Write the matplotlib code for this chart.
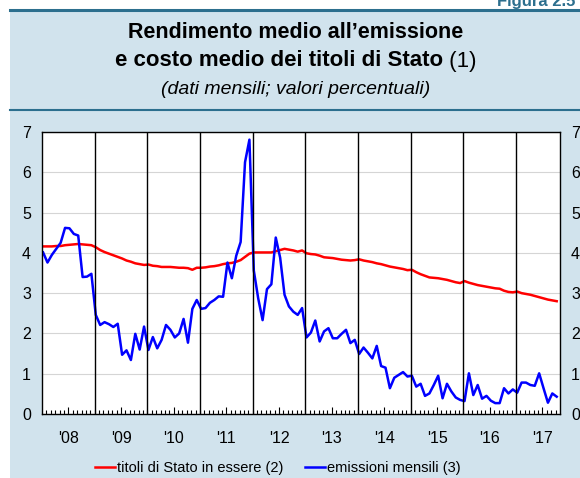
import numpy as np
import matplotlib.pyplot as plt
from matplotlib.patches import Rectangle
from matplotlib.lines import Line2D

plt.rcParams['font.family'] = ['Liberation Sans', 'DejaVu Sans']

# monthly values, Jan 2008 - Oct 2017
titoli_essere = [
    4.16, 4.16, 4.16, 4.17, 4.17, 4.19, 4.20, 4.21, 4.22, 4.21, 4.20, 4.19,
    4.14, 4.07, 4.02, 3.98, 3.94, 3.90, 3.86, 3.81, 3.78, 3.74, 3.72, 3.70,
    3.71, 3.68, 3.67, 3.65, 3.65, 3.65, 3.64, 3.63, 3.63, 3.62, 3.58, 3.63,
    3.63, 3.64, 3.66, 3.67, 3.69, 3.72, 3.74, 3.75, 3.78, 3.82, 3.90, 3.98,
    4.01, 4.01, 4.01, 4.01, 4.01, 4.04, 4.07, 4.10, 4.08, 4.06, 4.03, 4.06,
    3.99, 3.97, 3.96, 3.93, 3.89, 3.88, 3.87, 3.85, 3.83, 3.82, 3.81, 3.82,
    3.84, 3.81, 3.79, 3.77, 3.74, 3.72, 3.69, 3.66, 3.64, 3.62, 3.60, 3.57,
    3.58, 3.52, 3.47, 3.43, 3.39, 3.38, 3.37, 3.35, 3.33, 3.30, 3.27, 3.25,
    3.30, 3.26, 3.23, 3.20, 3.18, 3.16, 3.14, 3.12, 3.11, 3.06, 3.03, 3.02,
    3.04, 3.00, 2.98, 2.96, 2.93, 2.90, 2.87, 2.84, 2.82, 2.80,
]
emissioni = [
    4.01, 3.76, 3.95, 4.10, 4.25, 4.62, 4.61, 4.47, 4.43, 3.40, 3.41, 3.48,
    2.46, 2.21, 2.28, 2.23, 2.16, 2.24, 1.47, 1.58, 1.34, 1.99, 1.60, 2.17,
    1.59, 1.91, 1.63, 1.84, 2.21, 2.09, 1.90, 2.00, 2.36, 1.77, 2.61, 2.83,
    2.61, 2.63, 2.76, 2.83, 2.92, 2.91, 3.76, 3.37, 3.93, 4.27, 6.25, 6.81,
    3.56, 2.87, 2.33, 3.10, 3.22, 4.38, 3.88, 2.96, 2.67, 2.54, 2.46, 2.63,
    1.90, 2.02, 2.32, 1.80, 2.05, 2.13, 1.88, 1.88, 1.99, 2.09, 1.76, 1.84,
    1.49, 1.65, 1.52, 1.38, 1.69, 1.19, 1.15, 0.64, 0.90, 0.97, 1.04, 0.93,
    0.95, 0.68, 0.75, 0.45, 0.51, 0.72, 0.95, 0.39, 0.75, 0.56, 0.41, 0.35,
    0.32, 1.01, 0.47, 0.72, 0.38, 0.45, 0.33, 0.27, 0.27, 0.64, 0.51, 0.61,
    0.53, 0.78, 0.78, 0.72, 0.70, 1.01, 0.64, 0.28, 0.51, 0.43,
]
anni = ["'08", "'09", "'10", "'11", "'12", "'13", "'14", "'15", "'16", "'17"]

mesi = np.arange(len(emissioni)) + 0.25

W, H = 580, 478
fig = plt.figure(figsize=(W / 100, H / 100), dpi=100)
fig.patch.set_facecolor('white')

bg = '#d1e3ed'
teal = '#2c6f8e'
fig.patches.append(Rectangle((10 / W, 0), 1, 1 - 10 / H, transform=fig.transFigure,
                             facecolor=bg, edgecolor='none', zorder=-5))
fig.lines.append(Line2D([10 / W, 1], [1 - 10 / H] * 2, transform=fig.transFigure,
                        color=teal, lw=2.2))
fig.lines.append(Line2D([10 / W, 1], [1 - 110 / H] * 2, transform=fig.transFigure,
                        color=teal, lw=1.5))
fig.text(497 / W, 1 - 6 / H, 'Figura 2.5', color=teal, fontsize=12,
         fontweight='bold', va='baseline', ha='left')

# titles
cx = 296 / W
fig.text(cx, 1 - 33 / H, 'Rendimento medio all\u2019emissione', ha='center',
         va='center', fontsize=15.5, fontweight='bold')
t1 = fig.text(0, 1 - 61 / H, 'e costo medio dei titoli di Stato', ha='left',
              va='center', fontsize=16, fontweight='bold')
t2 = fig.text(0, 1 - 61 / H, ' (1)', ha='left', va='center', fontsize=16)
fig.canvas.draw()
r = fig.canvas.get_renderer()
w1 = t1.get_window_extent(r).width / W
w2 = t2.get_window_extent(r).width / W
x0 = cx - (w1 + w2) / 2
t1.set_x(x0)
t2.set_x(x0 + w1)
fig.text(cx, 1 - 89 / H, '(dati mensili; valori percentuali)', ha='center',
         va='center', fontsize=14, style='italic')

ax = fig.add_axes([42 / W, 1 - 414 / H, (560 - 42) / W, (414 - 132) / H], zorder=2)
ax.set_facecolor('white')
ax.plot(mesi, titoli_essere, color='#ff0000', lw=1.8, label='titoli di Stato in essere (2)')
ax.plot(mesi, emissioni, color='#0000ff', lw=1.8, label='emissioni mensili (3)')

ax.set_xlim(0, 118)
ax.set_ylim(0, 7)
ax.set_yticks(range(8))
ax.grid(axis='y', color='#d5d5d5', lw=0.8)
ax.set_axisbelow(True)
for k in range(1, len(anni)):
    ax.axvline(12 * k, color='black', lw=1)

ax.set_xticks([12 * k + 6 for k in range(len(anni))])
ax.set_xticklabels(anni)
ax.set_xticks(np.arange(1, 118), minor=True)
ax.tick_params(axis='x', which='major', direction='in', length=5, width=0.8,
               labelsize=11.5, pad=12)
ax.tick_params(axis='x', which='minor', direction='in', length=3, width=0.8)
ax.tick_params(axis='y', length=0, labelsize=11.5, pad=8,
               labelleft=True, labelright=True)
for s in ax.spines.values():
    s.set_color('black')
    s.set_linewidth(1)

ax.legend(loc='upper center', bbox_to_anchor=(0.455, -0.12), ncol=2, frameon=False,
          fontsize=10.5, handlelength=1.4, handletextpad=0.1, columnspacing=1.5)

fig.savefig('out.png', dpi=100)
